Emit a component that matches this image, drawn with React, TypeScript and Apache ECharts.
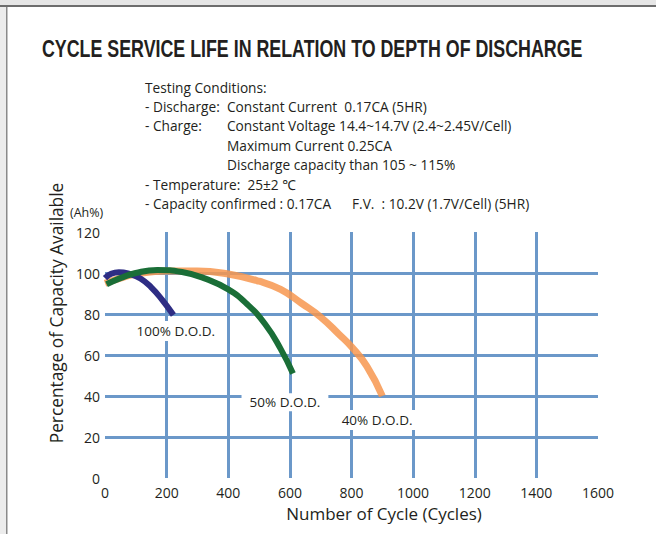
import React, { useEffect, useRef } from "react";
import * as echarts from "echarts";

const xTicks = [0, 200, 400, 600, 800, 1000, 1200, 1400, 1600];
const yTicks = [0, 20, 40, 60, 80, 100, 120];

const dod100Cycles = [0, 20, 45, 80, 115, 150, 185, 222];
const dod100Capacity = [97.5, 99.6, 100.4, 99.5, 97.3, 93, 87, 79.5];

const dod50Cycles = [5, 50, 100, 170, 250, 330, 400, 460, 520, 570, 610];
const dod50Capacity = [94.5, 97.5, 100, 101.5, 100.5, 97, 92, 85, 75, 63, 51];

const dod40Cycles = [0, 50, 100, 200, 300, 400, 500, 570, 640, 700, 760, 800, 850, 900];
const dod40Capacity = [95, 97.5, 99.5, 101, 101, 99.5, 96, 92, 85, 78.5, 70, 64, 54.5, 40];

const seriesNames = ["100% D.O.D.", "50% D.O.D.", "40% D.O.D."];
const labelPositions = [
  [230, 71.7],
  [584, 37],
  [883, 28.3],
];

const titleText = "CYCLE SERVICE LIFE IN RELATION TO DEPTH OF DISCHARGE";
const conditionsLeft = [
  "Testing Conditions:",
  "- Discharge:",
  "- Charge:",
  "",
  "",
  "- Temperature:  25\u00b12 \u2103",
  "- Capacity confirmed : 0.17CA",
];
const conditionsRight = [
  "",
  "Constant Current  0.17CA (5HR)",
  "Constant Voltage 14.4~14.7V (2.4~2.45V/Cell)",
  "Maximum Current 0.25CA",
  "Discharge capacity than 105 ~ 115%",
  "",
  "",
];
const fvText = "F.V.  : 10.2V (1.7V/Cell) (5HR)";
const yAxisName = "Percentage of Capacity Available";
const yUnit = "(Ah%)";
const xAxisName = "Number of Cycle (Cycles)";

const pairs = (xs: number[], ys: number[]) => xs.map((x, i) => [x, ys[i]]);

const TXT = "#231f20";
const SANS = "'Open Sans', 'Noto Sans', sans-serif";
const TITLE_FONT = "'Liberation Sans', Arial, sans-serif";

export default function App() {
  const ref = useRef<HTMLDivElement>(null);
  useEffect(() => {
    if (!ref.current) return;
    const chart = echarts.init(ref.current, undefined, { renderer: "svg" });

    // measure the title to squeeze it into the reference's condensed width
    let titleScale = 0.8;
    try {
      const ctx = document.createElement("canvas").getContext("2d");
      if (ctx) {
        ctx.font = "bold 23px " + TITLE_FONT;
        const w = ctx.measureText(titleText).width;
        if (w > 0) titleScale = 541 / w;
      }
    } catch (e) {}

    const textEl = (text: string, x: number, y: number, size: number, extra: any = {}) => ({
      type: "text",
      x,
      y,
      ...extra,
      style: {
        text,
        fill: TXT,
        fontSize: size,
        fontFamily: SANS,
        verticalAlign: "middle",
        ...(extra.style || {}),
      },
    });

    const lineYs = [87, 106, 125.5, 145, 164.5, 184, 203.5];
    const graphics: any[] = [
      { type: "rect", shape: { x: 0, y: 0, width: 656, height: 5 }, style: { fill: "#e6e6e6" }, z: 10 },
      { type: "rect", shape: { x: 0, y: 5, width: 656, height: 2 }, style: { fill: "#6d6d6d" }, z: 10 },
      { type: "rect", shape: { x: 0, y: 7, width: 6, height: 527 }, style: { fill: "#ececec" }, z: 10 },
      { type: "rect", shape: { x: 6, y: 7, width: 1.5, height: 527 }, style: { fill: "#8a8a8a" }, z: 10 },
      {
        type: "text",
        x: 42,
        y: 49,
        scaleX: titleScale,
        style: {
          text: titleText,
          fill: TXT,
          fontSize: 23,
          fontWeight: "bold",
          fontFamily: TITLE_FONT,
          verticalAlign: "middle",
        },
      },
    ];
    const condSize = 13.7;
    lineYs.forEach((y, i) => {
      if (conditionsLeft[i]) graphics.push(textEl(conditionsLeft[i], 145, y, condSize));
      if (conditionsRight[i]) graphics.push(textEl(conditionsRight[i], 227, y, condSize));
    });
    graphics.push(textEl(fvText, 352, lineYs[6], condSize));
    graphics.push(textEl(yUnit, 70, 212, 12.5));
    graphics.push(
      textEl(yAxisName, 56, 313, 17.3, { rotation: Math.PI / 2, style: { align: "center" } })
    );
    graphics.push(textEl(xAxisName, 384, 513, 17, { style: { align: "center" } }));

    const colors = ["#2e2d84", "#1a6e37", "#f7974f"];
    const datas = [
      pairs(dod100Cycles, dod100Capacity),
      pairs(dod50Cycles, dod50Capacity),
      pairs(dod40Cycles, dod40Capacity),
    ];
    const paddings = [
      [3, 4],
      [2, 8],
      [3, 4],
    ];
    const mk = (i: number) => ({
      name: seriesNames[i],
      type: "line",
      data: datas[i],
      smooth: 0.5,
      showSymbol: false,
      symbol: "none",
      z: i === 1 ? 4 : i === 0 ? 3 : 2,
      lineStyle: { color: colors[i], width: i === 2 ? 7 : 6, opacity: i === 2 ? 0.85 : 1, cap: "butt" },
      markPoint: {
        symbol: "circle",
        symbolSize: 0,
        silent: true,
        data: [{ coord: labelPositions[i] }],
        label: {
          show: true,
          position: "inside",
          formatter: seriesNames[i],
          color: TXT,
          fontSize: 13.5,
          fontFamily: SANS,
          backgroundColor: "#ffffff",
          padding: paddings[i],
        },
      },
    });

    const tickLabel = {
      color: TXT,
      fontSize: 14,
      fontWeight: 500,
      fontFamily: SANS,
      formatter: (v: number) => String(v),
    };

    chart.setOption({
      animation: false,
      backgroundColor: "#ffffff",
      grid: { left: 105, right: 58, top: 232, bottom: 56, containLabel: false },
      xAxis: {
        type: "value",
        min: xTicks[0],
        max: xTicks[xTicks.length - 1],
        interval: xTicks[1] - xTicks[0],
        axisLine: { show: false },
        axisTick: { show: false },
        axisLabel: { margin: 7, ...tickLabel },
        splitLine: {
          show: true,
          showMinLine: false,
          showMaxLine: false,
          lineStyle: { color: "#6b98c9", width: 3 },
        },
      },
      yAxis: {
        type: "value",
        min: yTicks[0],
        max: yTicks[yTicks.length - 1],
        interval: yTicks[1] - yTicks[0],
        axisLine: { show: false },
        axisTick: { show: false },
        axisLabel: { margin: 5, ...tickLabel },
        splitLine: {
          show: true,
          showMinLine: false,
          showMaxLine: false,
          lineStyle: { color: "#6b98c9", width: 3 },
        },
      },
      graphic: graphics,
      series: [mk(2), mk(0), mk(1)],
    });
    return () => chart.dispose();
  }, []);
  return <div ref={ref} style={{ width: 656, height: 534, position: "absolute", left: 0, top: 0 }} />;
}
